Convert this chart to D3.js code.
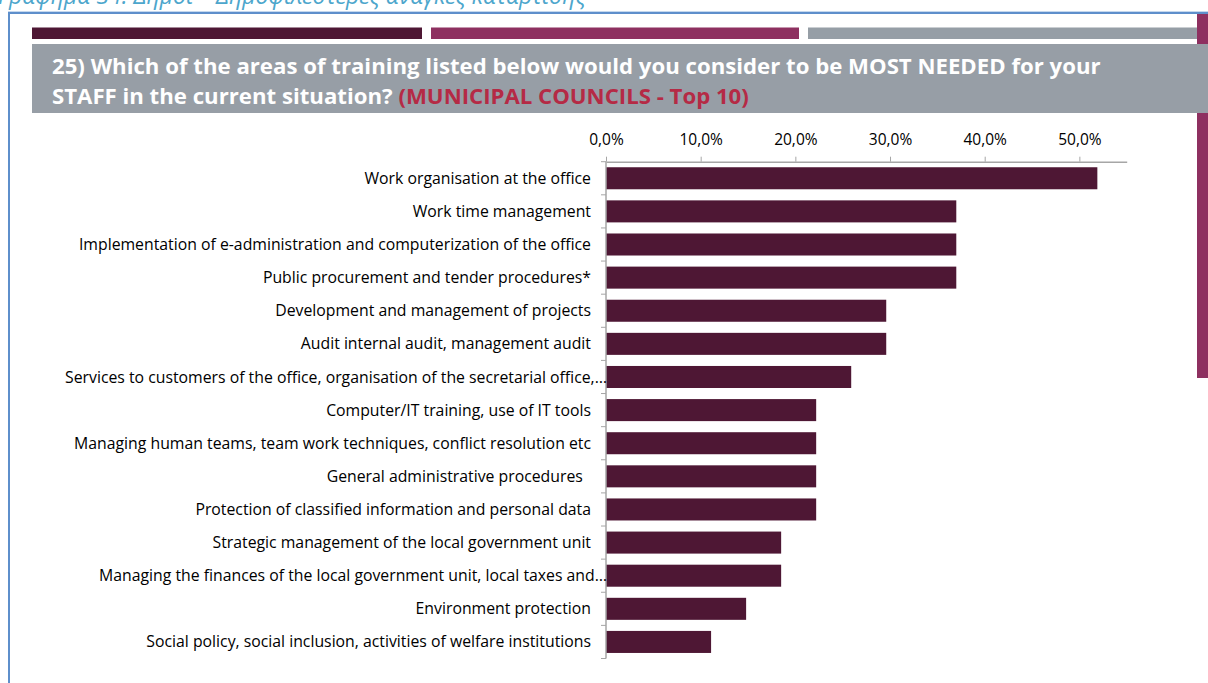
<!DOCTYPE html>
<html>
<head>
<meta charset="utf-8">
<script src="https://cdn.jsdelivr.net/npm/d3@7/dist/d3.min.js"></script>
<style>
  html, body { margin: 0; padding: 0; background: #fff; }
  svg { display: block; }
</style>
</head>
<body>
<svg id="chart" width="1208" height="683"></svg>
<script>
// Training areas, in ranked order
const categories = [
  "Work organisation at the office",
  "Work time management",
  "Implementation of e-administration and computerization of the office",
  "Public procurement and tender procedures*",
  "Development and management of projects",
  "Audit internal audit, management audit",
  "Services to customers of the office, organisation of the secretarial office,\u2026",
  "Computer/IT training, use of IT tools",
  "Managing human teams, team work techniques, conflict resolution etc",
  "General administrative procedures  ",
  "Protection of classified information and personal data",
  "Strategic management of the local government unit",
  "Managing the finances of the local government unit, local taxes and\u2026",
  "Environment protection",
  "Social policy, social inclusion, activities of welfare institutions"
];
// Share of respondents (%)
const values = [51.9, 37.0, 37.0, 37.0, 29.6, 29.6, 25.9, 22.2, 22.2, 22.2, 22.2, 18.5, 18.5, 14.8, 11.1];
const tickValues = [0, 10, 20, 30, 40, 50];

const captionText = "Γράφημα 34: Δήμοι – Δημοφιλέστερες ανάγκες κατάρτισης";
const titleLine1 = "25) Which of the areas of training listed below would you consider to be MOST NEEDED for your";
const titleLine2a = "STAFF in the current situation? ";
const titleLine2b = "(MUNICIPAL COUNCILS - Top 10)";

const svg = d3.select("#chart");
const FONT = "'Open Sans', 'Noto Sans', sans-serif";

// Caption above the frame (runs off the top of the page)
svg.append("text")
  .attr("x", -2).attr("y", 4)
  .attr("font-family", FONT)
  .attr("font-style", "italic")
  .attr("font-size", 23)
  .attr("fill", "#4da6cc")
  .text(captionText);

// Frame: blue rules at top and left
svg.append("line").attr("x1", 8).attr("x2", 1208).attr("y1", 11.5).attr("y2", 11.5)
  .attr("stroke", "#c5d8ee").attr("stroke-width", 1);
svg.append("line").attr("x1", 8).attr("x2", 1208).attr("y1", 13).attr("y2", 13)
  .attr("stroke", "#5e8fcb").attr("stroke-width", 2);
svg.append("line").attr("x1", 9).attr("x2", 9).attr("y1", 12).attr("y2", 683)
  .attr("stroke", "#5e8fcb").attr("stroke-width", 2);

// Colour stripes
svg.append("rect").attr("x", 32).attr("y", 27.5).attr("width", 390).attr("height", 11.5).attr("fill", "#4e1734");
svg.append("rect").attr("x", 431).attr("y", 27.5).attr("width", 368).attr("height", 11.5).attr("fill", "#8e3060");
svg.append("rect").attr("x", 808).attr("y", 27.5).attr("width", 389).attr("height", 11.5).attr("fill", "#969ea6");

// Right purple side band
svg.append("rect").attr("x", 1197).attr("y", 14).attr("width", 11).attr("height", 364).attr("fill", "#8e3060");

// Title box
svg.append("rect").attr("x", 32).attr("y", 44).attr("width", 1176).attr("height", 69).attr("fill", "#979ea6");
const title = svg.append("g").attr("font-family", FONT).attr("font-weight", "bold").attr("font-size", 22.2);
title.append("text").attr("x", 52).attr("y", 74).attr("fill", "#ffffff").text(titleLine1);
const t2 = title.append("text").attr("x", 52).attr("y", 104);
t2.append("tspan").attr("fill", "#ffffff").text(titleLine2a);
t2.append("tspan").attr("fill", "#b52a45").text(titleLine2b);

// Plot area
const x0 = 606, x1 = 1126.7, yTop = 161.7, yBot = 658.5;
const x = d3.scaleLinear().domain([0, 55]).range([x0, x1]);
const y = d3.scaleBand().domain(categories).range([yTop, yBot]).paddingInner(0.335).paddingOuter(0.1675);

// Bars
svg.append("g").selectAll("rect")
  .data(values)
  .join("rect")
  .attr("x", x(0))
  .attr("y", (d, i) => y(categories[i]))
  .attr("width", d => x(d) - x(0))
  .attr("height", y.bandwidth())
  .attr("fill", "#4e1734");

// Top value axis
const xAxis = svg.append("g")
  .attr("transform", `translate(0,${yTop})`)
  .call(d3.axisTop(x).tickValues(tickValues).tickSize(5).tickSizeOuter(0)
    .tickFormat(d => d3.format(".1f")(d).replace(".", ",") + "%"));
xAxis.select(".domain").attr("stroke", "#a6a6a6").attr("stroke-width", 1.5);
xAxis.selectAll(".tick line").attr("stroke", "#a6a6a6");
xAxis.selectAll(".tick text")
  .attr("font-family", FONT).attr("font-size", 15.5).attr("fill", "#000")
  .attr("dy", "-0.55em");

// Category axis: ticks at band boundaries
const bounds = d3.range(categories.length + 1).map(i => yTop + i * y.step());
svg.append("line").attr("x1", x0).attr("x2", x0).attr("y1", yTop).attr("y2", yBot)
  .attr("stroke", "#a6a6a6").attr("stroke-width", 1.5);
svg.append("g").selectAll("line").data(bounds).join("line")
  .attr("x1", x0 - 5).attr("x2", x0).attr("y1", d => d).attr("y2", d => d)
  .attr("stroke", "#a6a6a6").attr("stroke-width", 1);

// Category labels (truncated ones run up to the axis)
svg.append("g").selectAll("text").data(categories).join("text")
  .attr("x", d => d.endsWith("\u2026") ? 607 : 591)
  .attr("y", d => y(d) + y.bandwidth() / 2)
  .attr("dy", "0.35em")
  .attr("text-anchor", "end")
  .attr("font-family", FONT)
  .attr("font-size", 15.8)
  .attr("fill", "#000")
  .style("white-space", "pre")
  .text(d => d);
</script>
</body>
</html>
